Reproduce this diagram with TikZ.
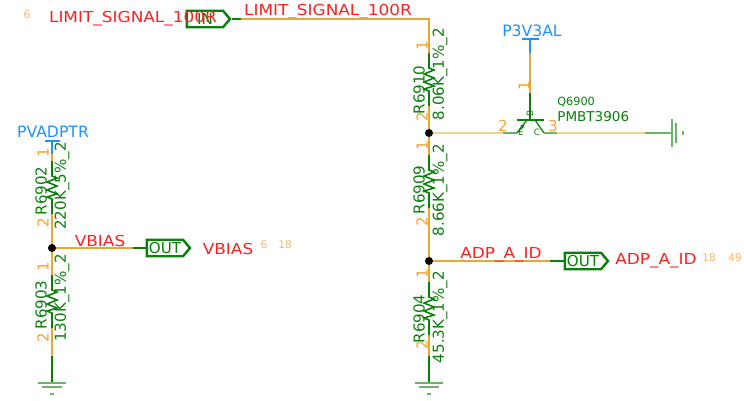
\documentclass[tikz,border=0pt]{standalone}
\usepackage{fontspec}
\setmainfont{DejaVu Sans}
\usetikzlibrary{shapes.symbols,arrows.meta}
\definecolor{netred}{HTML}{FF2020}
\definecolor{partgreen}{HTML}{0B7F0B}
\definecolor{pinorange}{HTML}{F9A030}
\definecolor{wireorange}{HTML}{E8A838}
\definecolor{palewire}{HTML}{EFD48C}
\definecolor{railblue}{HTML}{2090FF}
\definecolor{refpage}{HTML}{FFB468}
\tikzset{
  wire/.style={wireorange,line width=0.7pt},
  palew/.style={palewire,line width=1pt},
  lead/.style={partgreen,line width=0.7pt},
  palelead/.style={partgreen!60!white,line width=1pt},
  rail/.style={railblue,line width=0.6pt},
  netlabel/.style={text=netred,inner sep=0pt,font=\fontsize{8.6}{9}\selectfont,xscale=1.12,transform shape},
  raillabel/.style={text=railblue,inner sep=0pt,font=\fontsize{8.9}{10}\selectfont},
  partlabel/.style={text=partgreen,inner sep=0pt,rotate=90,font=\fontsize{8.6}{9}\selectfont},
  pinlabel/.style={text=pinorange,inner sep=0pt,font=\fontsize{8.6}{9}\selectfont},
  pagelabel/.style={text=refpage,inner sep=0pt,font=\fontsize{6}{7}\selectfont},
  tinylabel/.style={text=partgreen,inner sep=0pt,font=\fontsize{5}{6}\selectfont},
  dotnode/.style={circle,fill=black,inner sep=0pt,minimum size=0.16cm},
  portbox/.style={shape=signal,signal to=east,signal pointer angle=100,draw=partgreen,
    line width=1.4pt,text=partgreen,inner sep=0pt,minimum width=0.86cm,minimum height=0.33cm,
    font=\fontsize{8.6}{9}\selectfont},
  reszig/.pic={
    \coordinate (-top) at (0,-15);
    \coordinate (-bot) at (0,38);
    \draw[lead,line width=0.9pt] (-top) -- (0,0) -- (5,2) -- (-5,6) -- (5,10) -- (-5,14) -- (5,18) -- (-5,21) -- (0,23) -- (-bot);
  },
  gndmark/.pic={
    \draw[palelead] (-14,0) -- (14,0);
    \draw[palelead] (-10,4) -- (10,4);
    \draw[palelead] (-2,11) -- (2,11);
  }
}
\begin{document}
\begin{tikzpicture}[x=0.02cm,y=-0.02cm]
      \useasboundingbox (0,0) rectangle (744,400);
      % left divider
      \node[raillabel] (pvadptr) at (53,132) {PVADPTR};
      \coordinate (pvbar) at (52,141);
      \coordinate (pvend) at (52,154);
      \draw[rail] (45,141) -- (60,141);
      \draw[rail] (pvbar) -- (pvend);
      \pic (r6902) at (52,176) {reszig};
      \draw[wire] (pvend) -- (r6902-top);
      \node[partlabel] (r6902name) at (41,191) {R6902};
      \node[partlabel] (r6902val) at (62,186) {220K\_5\%\_2};
      \node[pinlabel,rotate=90] (r6902p1) at (43,153) {1};
      \node[pinlabel,rotate=90] (r6902p2) at (43,223) {2};
      \node[dotnode] (vbiasdot) at (52,248) {};
      \draw[wire] (r6902-bot) -- (vbiasdot);
      \node[portbox] (vbiasport) at (165,248) {OUT};
      \coordinate (vbiasstub) at (133,248);
      \draw[wire] (vbiasdot) -- (vbiasstub);
      \draw[lead] (vbiasstub) -- (vbiasport.west);
      \node[netlabel] (vbiasnet) at (100,241) {VBIAS};
      \node[netlabel] (vbiasoff) at (228,249) {VBIAS};
      \node[pagelabel] (vbiaspg1) at (264,245) {6};
      \node[pagelabel] (vbiaspg2) at (285,245) {18};
      \pic (r6903) at (52,290) {reszig};
      \draw[wire] (vbiasdot) -- (r6903-top);
      \node[partlabel] (r6903name) at (41,305) {R6903};
      \node[partlabel] (r6903val) at (62,298) {130K\_1\%\_2};
      \node[pinlabel,rotate=90] (r6903p1) at (43,267) {1};
      \node[pinlabel,rotate=90] (r6903p2) at (43,338) {2};
      \coordinate (gndleft) at (52,383);
      \coordinate (gndleftup) at (52,356);
      \draw[wire] (r6903-bot) -- (gndleftup);
      \draw[lead] (gndleftup) -- (gndleft);
      \pic at (gndleft) {gndmark};
      % limit signal
      \node[pagelabel] (limitpg) at (27,15) {6};
      \node[portbox] (limitport) at (205,19) {IN};
      \node[netlabel] (limitoff) at (133,19) {LIMIT\_SIGNAL\_100R};
      \node[netlabel] (limitnet) at (328,12) {LIMIT\_SIGNAL\_100R};
      \coordinate (limitstub) at (241,19);
      \coordinate (limitcorner) at (429,19);
      \draw[lead] (limitport.east) -- (limitstub);
      \pic (r6910) at (429,68) {reszig};
      \draw[wire] (limitstub) -- (limitcorner) -- (r6910-top);
      \node[partlabel] (r6910name) at (419,90) {R6910};
      \node[partlabel] (r6910val) at (440,74) {8.06K\_1\%\_2};
      \node[pinlabel,rotate=90] (r6910p1) at (422,46) {1};
      \node[pinlabel,rotate=90] (r6910p2) at (422,117) {2};
      \node[dotnode] (qdot) at (429,133) {};
      \draw[wire] (r6910-bot) -- (qdot);
      % transistor
      \node[raillabel] (p3v3al) at (532,31) {P3V3AL};
      \coordinate (p3bar) at (530,39);
      \coordinate (p3end) at (530,53);
      \coordinate (basepin) at (530,93);
      \coordinate (basept) at (530,120);
      \coordinate (emitpt) at (517,133);
      \coordinate (collpt) at (544,133);
      \coordinate (emitstub) at (503,133);
      \coordinate (collstub) at (557,133);
      \coordinate (gndstub) at (645,133);
      \coordinate (gndright) at (672,133);
      \draw[rail] (522,39) -- (539,39);
      \draw[rail] (p3bar) -- (p3end);
      \draw[wire] (p3end) -- (basepin);
      \draw[lead] (basepin) -- (basept);
      \draw[lead,line width=0.9pt] (517,120) -- (544,120);
      \draw[lead] (emitpt) -- (527,120);
      \draw[lead,-{Latex[length=5pt*0.6,width=4pt*0.6]}] (emitpt) -- (525,123);
      \draw[lead] (535,120) -- (collpt);
      \draw[palew] (qdot) -- (emitstub);
      \draw[palelead] (emitstub) -- (emitpt);
      \draw[palelead] (collpt) -- (collstub);
      \draw[palew] (collstub) -- (gndstub);
      \draw[palelead] (gndstub) -- (gndright);
      \pic[rotate=90] at (gndright) {gndmark};
      \node[pinlabel,rotate=90] (q1p1) at (524,86) {1};
      \node[pinlabel] (q1p2) at (503,126) {2};
      \node[pinlabel] (q1p3) at (553,126) {3};
      \node[tinylabel,rotate=90] (q1b) at (530,113) {B};
      \node[tinylabel] (q1e) at (521,132) {E};
      \node[tinylabel] (q1c) at (537,132) {C};
      \node[anchor=west,text=partgreen,inner sep=0pt,font=\fontsize{6.4}{8}\selectfont] (q6900) at (557,102) {Q6900};
      \node[anchor=west,text=partgreen,inner sep=0pt,font=\fontsize{7.7}{9}\selectfont] (pmbt) at (557,117) {PMBT3906};
      % right divider
      \pic (r6909) at (429,170) {reszig};
      \draw[wire] (qdot) -- (r6909-top);
      \node[partlabel] (r6909name) at (419,190) {R6909};
      \node[partlabel] (r6909val) at (440,190) {8.66K\_1\%\_2};
      \node[pinlabel,rotate=90] (r6909p1) at (422,146) {1};
      \node[pinlabel,rotate=90] (r6909p2) at (422,222) {2};
      \node[dotnode] (adpdot) at (429,261) {};
      \draw[wire] (r6909-bot) -- (adpdot);
      \node[portbox] (adpport) at (583,261) {OUT};
      \coordinate (adpstub) at (550,261);
      \draw[wire] (adpdot) -- (adpstub);
      \draw[lead] (adpstub) -- (adpport.west);
      \node[netlabel] (adpnet) at (501,255) {ADP\_A\_ID};
      \node[netlabel] (adpoff) at (656,261) {ADP\_A\_ID};
      \node[pagelabel] (adppg1) at (709,258) {18};
      \node[pagelabel] (adppg2) at (735,258) {49};
      \pic (r6904) at (429,297) {reszig};
      \draw[wire] (adpdot) -- (r6904-top);
      \node[partlabel] (r6904name) at (419,319) {R6904};
      \node[partlabel] (r6904val) at (440,317) {45.3K\_1\%\_2};
      \node[pinlabel,rotate=90] (r6904p1) at (422,274) {1};
      \node[pinlabel,rotate=90] (r6904p2) at (422,345) {2};
      \coordinate (gndmid) at (429,383);
      \coordinate (gndmidup) at (429,356);
      \draw[wire] (r6904-bot) -- (gndmidup);
      \draw[lead] (gndmidup) -- (gndmid);
      \pic at (gndmid) {gndmark};
    \end{tikzpicture}
\end{document}
